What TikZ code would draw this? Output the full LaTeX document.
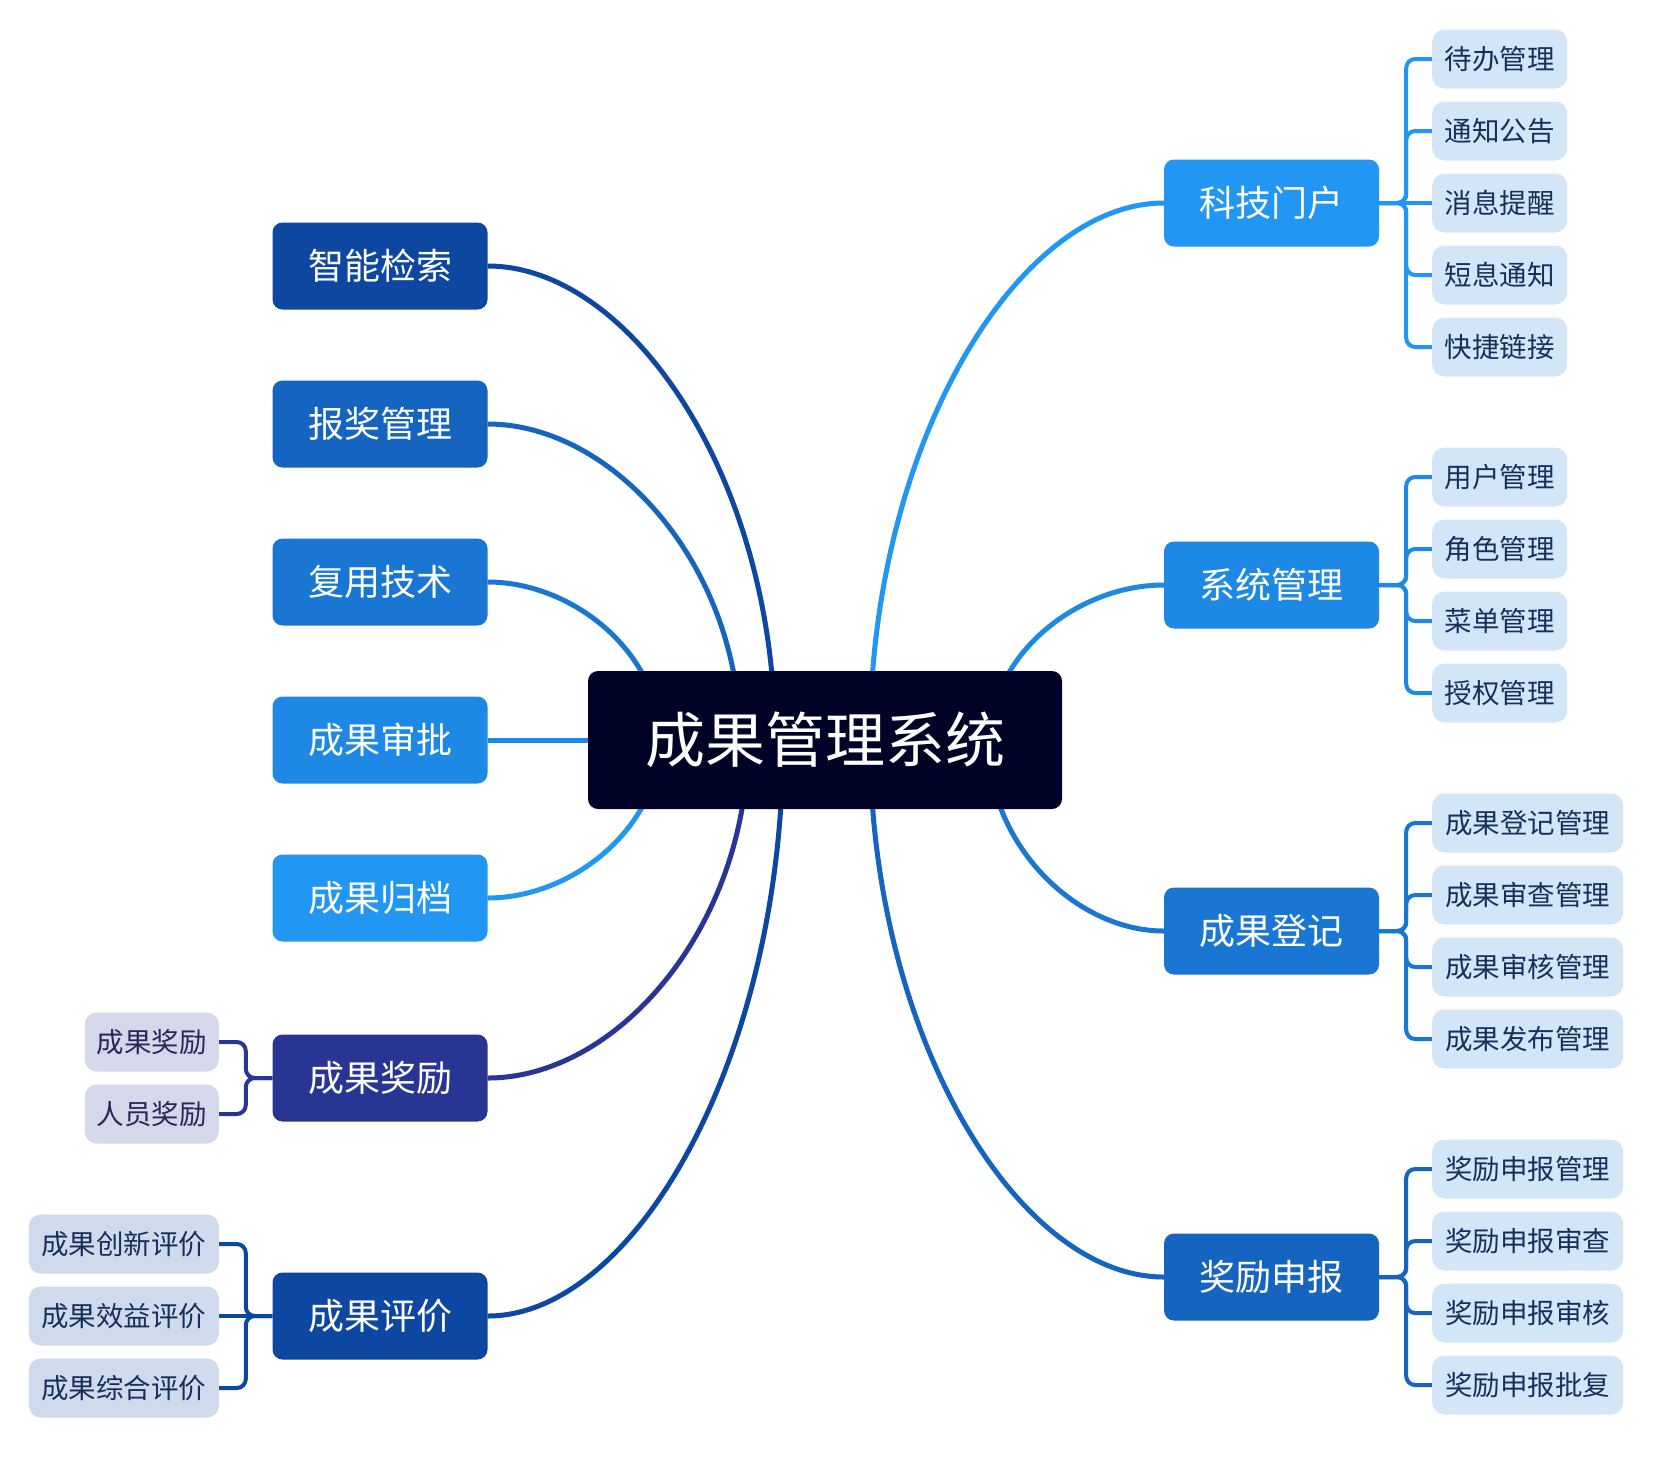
\documentclass[tikz,border=0pt]{standalone}
\usepackage{fontspec}
\setmainfont{Noto Sans CJK SC}
\pgfdeclarelayer{bg}
\pgfsetlayers{bg,main}
\definecolor{cCenter}{HTML}{000326}
\definecolor{cA}{HTML}{0D47A1}
\definecolor{cB}{HTML}{1565C0}
\definecolor{cC}{HTML}{1976D2}
\definecolor{cD}{HTML}{1E88E5}
\definecolor{cE}{HTML}{2196F3}
\definecolor{cI}{HTML}{283593}
\definecolor{leafBlue}{HTML}{D3E6F8}
\definecolor{leafIndigo}{HTML}{D5D7EA}
\definecolor{leafNavy}{HTML}{CFDAED}
\definecolor{leafText}{HTML}{17305A}
\definecolor{leafTextI}{HTML}{262957}
\begin{document}
\begin{tikzpicture}[x=1pt,y=-1pt,
  centerbox/.style={rounded corners=10pt, fill=cCenter, text=white, minimum width=474pt, minimum height=138pt, inner sep=0pt, font=\fontsize{60}{66}\selectfont},
  mainbox/.style={rounded corners=10pt, fill=#1, text=white, minimum width=215pt, minimum height=87pt, inner sep=0pt, font=\fontsize{36}{40}\selectfont},
  leafbox/.style={rounded corners=12pt, fill=leafBlue, text=leafText, minimum height=59pt, inner sep=0pt, font=\fontsize{27.5}{30}\selectfont},
  shortleaf/.style={leafbox, minimum width=135pt, anchor=west},
  longleaf/.style={leafbox, minimum width=191pt, anchor=west},
  lleafI/.style={leafbox, fill=leafIndigo, text=leafTextI, minimum width=134pt, anchor=east},
  lleafN/.style={leafbox, fill=leafNavy, text=leafText, minimum width=190pt, anchor=east},
  link/.style={line width=5pt, draw=#1},
  brk/.style={line width=4pt, draw=#1, rounded corners=9pt},
]
\useasboundingbox (0,0) rectangle (1656,1460);

% central
\node[centerbox] (c) at (825,740) {成果管理系统};

% left main
\node[mainbox=cA] (m1) at (380,266) {智能检索};
\node[mainbox=cB] (m2) at (380,424) {报奖管理};
\node[mainbox=cC] (m3) at (380,582) {复用技术};
\node[mainbox=cD] (m4) at (380,740) {成果审批};
\node[mainbox=cE] (m5) at (380,898) {成果归档};
\node[mainbox=cI] (m6) at (380,1078) {成果奖励};
\node[mainbox=cA] (m7) at (380,1316) {成果评价};

% right main
\node[mainbox=cE] (m8) at (1271.5,203) {科技门户};
\node[mainbox=cD] (m9) at (1271.5,585) {系统管理};
\node[mainbox=cC] (m10) at (1271.5,931) {成果登记};
\node[mainbox=cB] (m11) at (1271.5,1277) {奖励申报};

% right leaves
\node[shortleaf] (l81) at (1432,59) {待办管理};
\node[shortleaf] (l82) at (1432,131) {通知公告};
\node[shortleaf] (l83) at (1432,203) {消息提醒};
\node[shortleaf] (l84) at (1432,275) {短息通知};
\node[shortleaf] (l85) at (1432,347) {快捷链接};

\node[shortleaf] (l91) at (1432,477) {用户管理};
\node[shortleaf] (l92) at (1432,549) {角色管理};
\node[shortleaf] (l93) at (1432,621) {菜单管理};
\node[shortleaf] (l94) at (1432,693) {授权管理};

\node[longleaf] (l101) at (1432,823) {成果登记管理};
\node[longleaf] (l102) at (1432,895) {成果审查管理};
\node[longleaf] (l103) at (1432,967) {成果审核管理};
\node[longleaf] (l104) at (1432,1039) {成果发布管理};

\node[longleaf] (l111) at (1432,1169) {奖励申报管理};
\node[longleaf] (l112) at (1432,1241) {奖励申报审查};
\node[longleaf] (l113) at (1432,1313) {奖励申报审核};
\node[longleaf] (l114) at (1432,1385) {奖励申报批复};

% left leaves
\node[lleafI] (l61) at (219,1042) {成果奖励};
\node[lleafI] (l62) at (219,1114) {人员奖励};

\node[lleafN] (l71) at (219,1244) {成果创新评价};
\node[lleafN] (l72) at (219,1316) {成果效益评价};
\node[lleafN] (l73) at (219,1388) {成果综合评价};

\begin{pgfonlayer}{bg}
\fill[white] (0,0) rectangle (1656,1460);
\coordinate (s1) at (775,740);
\coordinate (s2) at (740,740);
\coordinate (s3) at (660,740);
\coordinate (s5) at (660,740);
\coordinate (s6) at (748,740);
\coordinate (s7) at (783,740);
\coordinate (s8) at (870,740);
\coordinate (s9) at (990,740);
\coordinate (s10) at (988,740);
\coordinate (s11) at (870,740);

\draw[link=cA] (m1.east) .. controls (631,266) and (775,479) .. (s1);
\draw[link=cB] (m2.east) .. controls (613,424) and (740,566) .. (s2);
\draw[link=cC] (m3.east) .. controls (573,582) and (660,653) .. (s3);
\draw[link=cD] (m4.east) -- (c.west);
\draw[link=cE] (m5.east) .. controls (573,898) and (660,827) .. (s5);
\draw[link=cI] (m6.east) .. controls (618,1078) and (748,926) .. (s6);
\draw[link=cA] (m7.east) .. controls (635,1316) and (783,1057) .. (s7);

\draw[link=cE] (m8.west) .. controls (1017,203) and (870,445) .. (s8);
\draw[link=cD] (m9.west) .. controls (1077,585) and (990,655) .. (s9);
\draw[link=cC] (m10.west) .. controls (1076,931) and (988,845) .. (s10);
\draw[link=cB] (m11.west) .. controls (1017,1277) and (870,1035) .. (s11);

% right brackets
\draw[brk=cE] (m8.east) -- ++(27,0) |- (l81.west);
\draw[brk=cE] (m8.east) -- ++(27,0) |- (l82.west);
\draw[brk=cE] (m8.east) -- (l83.west);
\draw[brk=cE] (m8.east) -- ++(27,0) |- (l84.west);
\draw[brk=cE] (m8.east) -- ++(27,0) |- (l85.west);

\draw[brk=cD] (m9.east) -- ++(27,0) |- (l91.west);
\draw[brk=cD] (m9.east) -- ++(27,0) |- (l92.west);
\draw[brk=cD] (m9.east) -- ++(27,0) |- (l93.west);
\draw[brk=cD] (m9.east) -- ++(27,0) |- (l94.west);

\draw[brk=cC] (m10.east) -- ++(27,0) |- (l101.west);
\draw[brk=cC] (m10.east) -- ++(27,0) |- (l102.west);
\draw[brk=cC] (m10.east) -- ++(27,0) |- (l103.west);
\draw[brk=cC] (m10.east) -- ++(27,0) |- (l104.west);

\draw[brk=cB] (m11.east) -- ++(27,0) |- (l111.west);
\draw[brk=cB] (m11.east) -- ++(27,0) |- (l112.west);
\draw[brk=cB] (m11.east) -- ++(27,0) |- (l113.west);
\draw[brk=cB] (m11.east) -- ++(27,0) |- (l114.west);

% left brackets
\draw[brk=cI] (m6.west) -- ++(-26.5,0) |- (l61.east);
\draw[brk=cI] (m6.west) -- ++(-26.5,0) |- (l62.east);

\draw[brk=cA] (m7.west) -- ++(-26.5,0) |- (l71.east);
\draw[brk=cA] (m7.west) -- (l72.east);
\draw[brk=cA] (m7.west) -- ++(-26.5,0) |- (l73.east);
\end{pgfonlayer}
\end{tikzpicture}
\end{document}
